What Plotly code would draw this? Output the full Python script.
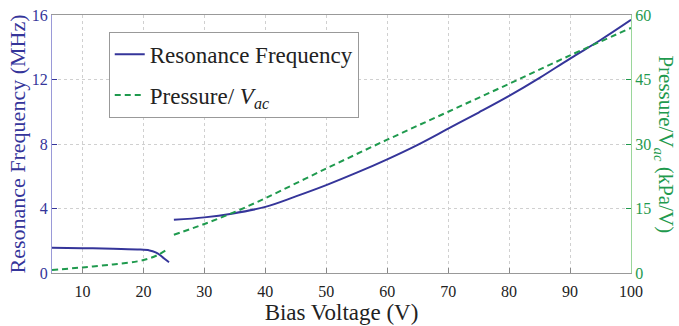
import plotly.graph_objects as go

# Resonance frequency (MHz) vs bias voltage (V)
freq_v1 = [5, 10, 15, 19, 21, 22, 22.7, 23.4, 24.2]
freq_f1 = [1.56, 1.54, 1.51, 1.46, 1.40, 1.28, 1.12, 0.90, 0.67]
freq_v2 = [25, 30, 34.5, 40, 45, 50, 55, 60, 65, 70, 75, 80, 85, 90, 95, 100]
freq_f2 = [3.30, 3.45, 3.68, 4.10, 4.75, 5.45, 6.22, 7.05, 7.95, 8.95, 9.95, 10.98, 12.10, 13.30, 14.45, 15.70]

# Pressure / Vac (kPa/V) vs bias voltage (V)
pres_v1 = [5, 10, 15, 19, 21, 22.5, 23.7]
pres_p1 = [0.7, 1.3, 2.0, 2.7, 3.4, 4.3, 5.3]
pres_v2 = [25, 30, 35, 40, 50, 60, 70, 80, 90, 100]
pres_p2 = [8.9, 11.4, 14.2, 17.4, 24.3, 31.0, 37.5, 44.0, 50.6, 57.0]

x_ticks = [10, 20, 30, 40, 50, 60, 70, 80, 90, 100]
y1_ticks = [0, 4, 8, 12, 16]
y2_ticks = [0, 15, 30, 45, 60]

BLUE = "#35359a"
GREEN = "#1f9a4e"
FONT = "Liberation Serif"

fig = go.Figure()
fig.add_trace(go.Scatter(
    x=freq_v1 + [None] + freq_v2, y=freq_f1 + [None] + freq_f2,
    mode="lines", name="Resonance Frequency", legendgroup="a",
    line=dict(color=BLUE, width=2, shape="spline"), connectgaps=False,
))
fig.add_trace(go.Scatter(
    x=pres_v1 + [None] + pres_v2, y=pres_p1 + [None] + pres_p2,
    mode="lines", name="Pressure/ <i>V<sub>ac</sub></i>", legendgroup="b",
    line=dict(color=GREEN, width=2, dash="6px,4px", shape="spline"), connectgaps=False,
    yaxis="y2",
))

grid = dict(showgrid=True, gridcolor="#d0d0d0", griddash="dot", gridwidth=1)

fig.update_layout(
    width=679, height=326,
    margin=dict(l=52, r=48, t=15, b=53, autoexpand=False),
    paper_bgcolor="white", plot_bgcolor="white",
    font=dict(family=FONT, size=16, color="#222"),
    showlegend=True,
    legend=dict(
        x=0.098, y=0.935, xanchor="left", yanchor="top",
        bgcolor="white", bordercolor="#999", borderwidth=1,
        font=dict(family=FONT, size=23, color="#222"),
        traceorder="grouped", tracegroupgap=8, itemwidth=30,
    ),
    xaxis=dict(
        range=[5, 100], tickvals=x_ticks, ticks="inside", ticklen=5,
        tickcolor="#888", showline=True, linecolor="#999", mirror=True,
        zeroline=False, tickfont=dict(family=FONT, size=16, color="#222"),
        ticklabelstandoff=4, automargin=False,
        title=dict(text="Bias Voltage (V)", font=dict(family=FONT, size=23, color="#222"), standoff=4),
        **grid,
    ),
    yaxis=dict(
        range=[0, 16], tickvals=y1_ticks, ticks="inside", ticklen=5,
        tickcolor=BLUE, showline=True, linecolor="#9a9ad8", zeroline=False,
        tickfont=dict(family=FONT, size=16, color=BLUE), automargin=False,
        title=dict(text="Resonance Frequency (MHz)", font=dict(family=FONT, size=22, color=BLUE), standoff=0),
        **grid,
    ),
    yaxis2=dict(
        range=[0, 60], tickvals=y2_ticks, ticks="inside", ticklen=5,
        tickcolor=GREEN, overlaying="y", side="right", showline=True,
        linecolor="#9ad69a", zeroline=False, showgrid=False, automargin=False,
        tickfont=dict(family=FONT, size=16, color=GREEN),
    ),
)

fig.add_annotation(
    text="Pressure/V<sub><i>ac</i></sub> (kPa/V)", textangle=90,
    xref="paper", yref="paper", x=1.058, y=0.5, xanchor="center", yanchor="middle",
    showarrow=False, font=dict(family=FONT, size=21, color=GREEN),
)

fig.write_html("out.html")
